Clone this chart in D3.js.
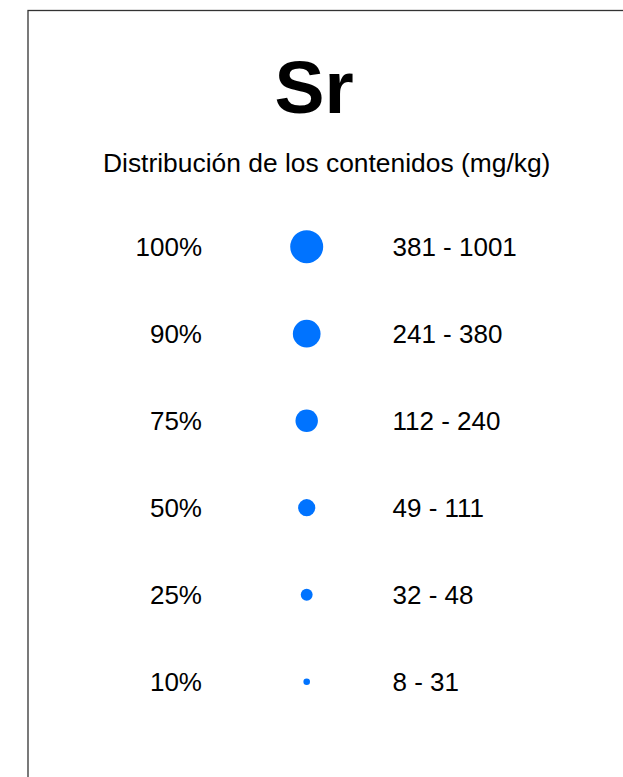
<!DOCTYPE html>
<html>
<head>
<meta charset="utf-8">
<script src="https://cdn.jsdelivr.net/npm/d3@7"></script>
<style>
  body { margin: 0; background: #fff; }
  text { font-family: Arial, "Liberation Sans", sans-serif; fill: #000; }
</style>
</head>
<body>
<div id="chart"></div>
<script>
const element = 'Sr';
const subtitle = 'Distribución de los contenidos (mg/kg)';
const percentiles = ['100%', '90%', '75%', '50%', '25%', '10%'];
const ranges = ['381 - 1001', '241 - 380', '112 - 240', '49 - 111', '32 - 48', '8 - 31'];

const width = 623;
const height = 777;

const svg = d3.select('#chart').append('svg')
    .attr('width', width)
    .attr('height', height);

// frame, runs off the right and bottom edge
svg.append('rect')
    .attr('x', 28).attr('y', 10.5)
    .attr('width', 800).attr('height', 900)
    .attr('fill', 'none')
    .attr('stroke', '#333')
    .attr('stroke-width', 1.3);

svg.append('text')
    .attr('x', 314).attr('y', 112.5)
    .attr('text-anchor', 'middle')
    .attr('font-size', 75)
    .attr('font-weight', 'bold')
    .text(element);

svg.append('text')
    .attr('x', 326.7).attr('y', 171.5)
    .attr('text-anchor', 'middle')
    .attr('font-size', 26.4)
    .text(subtitle);

const y = d3.scalePoint().domain(percentiles).range([246.7, 681.7]);
const r = d3.scaleLinear().domain([0, percentiles.length - 1]).range([16.5, 3.3]);

const rows = svg.append('g').selectAll('g').data(percentiles).join('g')
    .attr('transform', (d) => `translate(0,${y(d)})`);

rows.append('text')
    .attr('x', 202)
    .attr('dy', '0.35em')
    .attr('text-anchor', 'end')
    .attr('font-size', 26)
    .text((d) => d);

rows.append('circle')
    .attr('cx', 306.7)
    .attr('r', (d, i) => r(i))
    .attr('fill', '#0073ff');

rows.append('text')
    .attr('x', 392.5)
    .attr('dy', '0.35em')
    .attr('font-size', 26)
    .text((d, i) => ranges[i]);
</script>
</body>
</html>
